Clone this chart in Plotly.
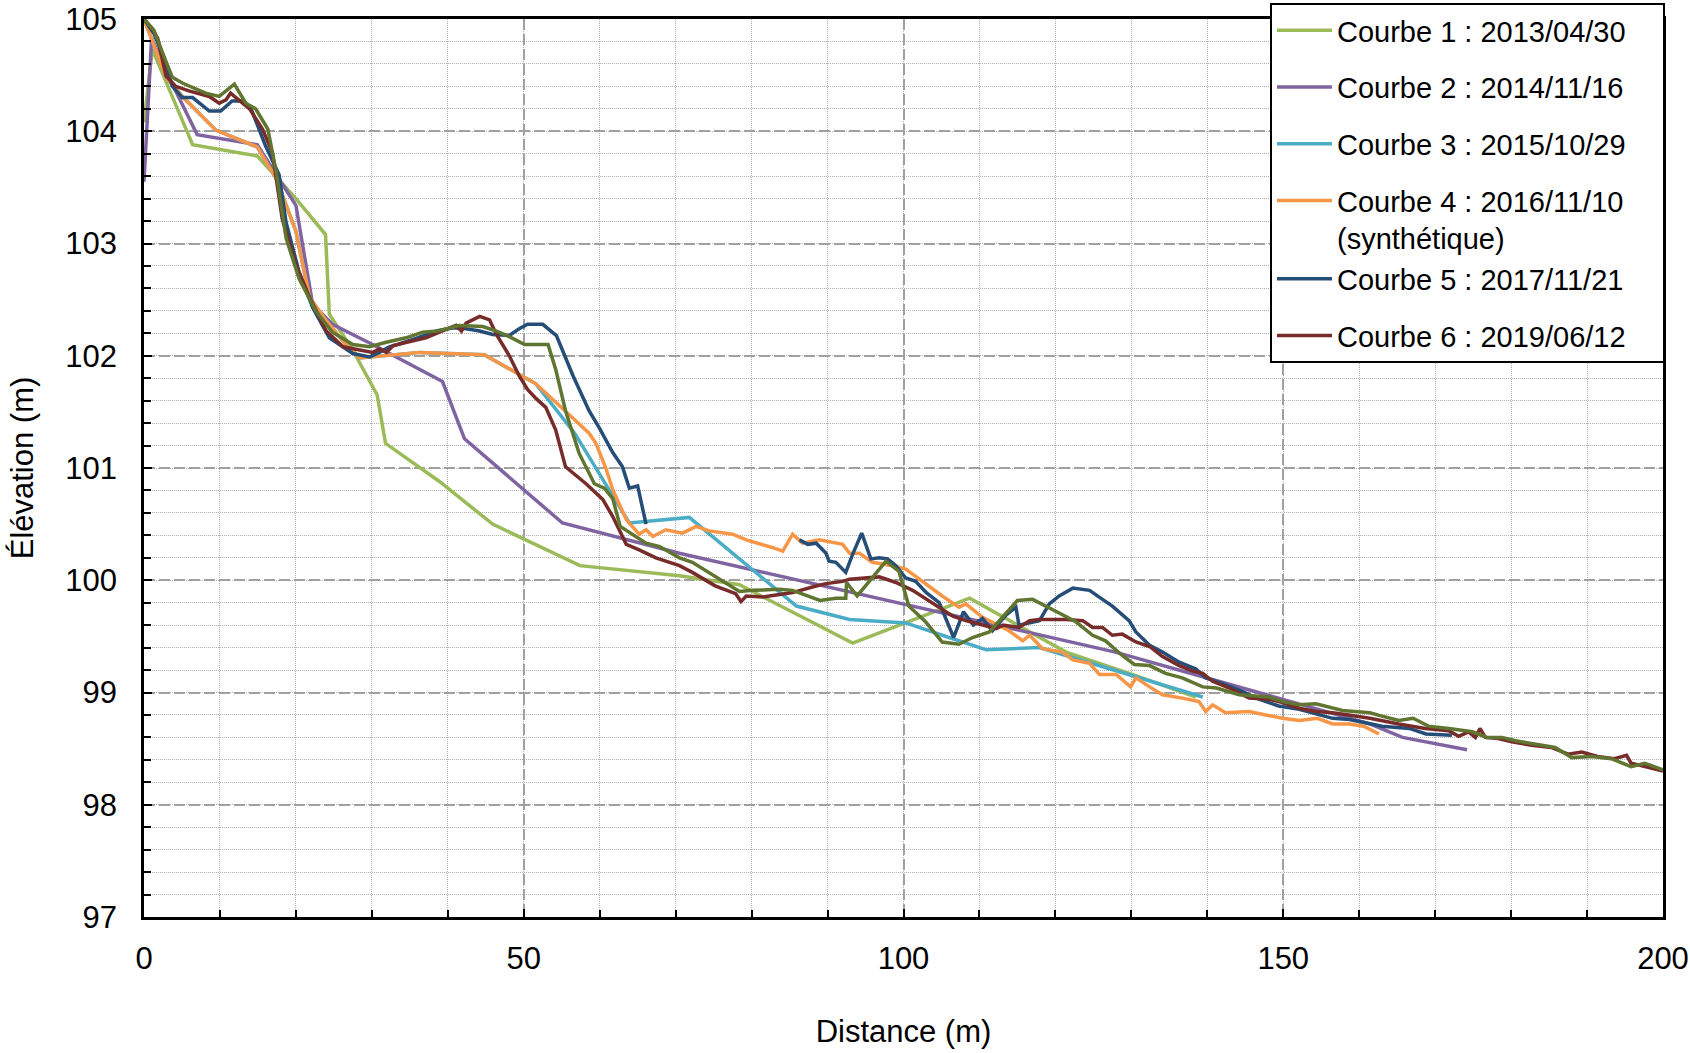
import plotly.graph_objects as go

# ---------------- data ----------------
PAD = "\u00a0" * 4
names = [
    "Courbe 1 : 2013/04/30" + PAD,
    "Courbe 2 : 2014/11/16" + PAD,
    "Courbe 3 : 2015/10/29" + PAD,
    "Courbe 4 : 2016/11/10" + PAD + "<br>(synthétique)",
    "Courbe 5 : 2017/11/21" + PAD,
    "Courbe 6 : 2019/06/12" + PAD,
    "Courbe 7",
]
groups = ["g1", "g2", "g3", "g45", "g45", "g6", "g7"]

c1_x = [0, 1.1, 6.4, 14.9, 20.0, 23.9, 24.4, 27.5, 30.7, 31.8, 38.9, 45.9, 57.4, 70.5, 78.4, 93.3, 108.7, 121.4, 130.2, 138.5]
c1_y = [104.08, 104.73, 103.88, 103.78, 103.40, 103.08, 102.37, 102.05, 101.65, 101.22, 100.88, 100.50, 100.13, 100.04, 99.96, 99.44, 99.84, 99.36, 99.16, 98.96]

c2_x = [0, 1.0, 3.5, 7.0, 14.9, 20.0, 22.2, 24.8, 30.1, 39.3, 42.2, 55.1, 70.5, 93.3, 110.0, 127.9, 139.4, 161.4, 165.7, 174.2]
c2_y = [103.55, 104.83, 104.45, 103.97, 103.88, 103.34, 102.46, 102.28, 102.10, 101.77, 101.26, 100.51, 100.24, 99.89, 99.63, 99.36, 99.14, 98.72, 98.60, 98.49]

c3_x = [0, 2.9, 5.05, 9.45, 14.9, 17.4, 20.0, 21.8, 24.0, 26.6, 28.4, 36.3, 44.8, 51.6, 56.7, 63.9, 71.8, 85.9, 92.9, 100.3, 106.0, 110.9, 117.9, 139.4]
c3_y = [105.0, 104.48, 104.31, 104.01, 103.86, 103.58, 103.11, 102.52, 102.31, 102.10, 101.98, 102.03, 102.01, 101.75, 101.31, 100.51, 100.56, 99.77, 99.65, 99.62, 99.49, 99.38, 99.40, 98.96]

c4_x = [0, 2.9, 5.05, 9.45, 14.9, 17.4, 20.0, 21.8, 24.0, 26.6, 28.4, 36.3, 44.8, 51.6, 58.6, 59.5, 60.8, 61.7, 63.5,
        65.2, 66.1, 67.0, 68.7, 70.9, 72.7, 74.4, 77.5, 79.3, 82.8, 84.1, 85.4, 86.7, 88.9, 92.0, 92.9, 94.2, 95.9,
        98.6, 100.3, 102.5, 105.1, 107.3, 108.2, 110.4, 113.9, 115.7, 116.6, 118.3, 120.9, 122.3, 124.5, 125.8,
        128.0, 129.9, 130.6, 132.4, 134.1, 136.7, 138.9, 139.8, 140.7, 142.4, 145.5, 147.7, 149.9, 152.1, 154.5,
        156.5, 158.7, 160.6, 162.6]
c4_y = [105.0, 104.48, 104.31, 104.01, 103.86, 103.58, 103.11, 102.52, 102.31, 102.10, 101.98, 102.03, 102.01, 101.75,
        101.31, 101.22, 101.00, 100.81, 100.54,
        100.41, 100.45, 100.39, 100.45, 100.42, 100.48, 100.44, 100.41, 100.36, 100.29, 100.26, 100.41, 100.33, 100.36,
        100.32, 100.24, 100.24, 100.16,
        100.13, 100.10, 99.99, 99.86, 99.76, 99.79, 99.67, 99.55, 99.46, 99.51, 99.39, 99.36, 99.29, 99.26, 99.16,
        99.16, 99.05, 99.13, 99.05, 98.98, 98.95, 98.92, 98.83, 98.89, 98.82, 98.83, 98.80, 98.77, 98.75, 98.77,
        98.72, 98.72, 98.70, 98.63]

c5_x = [0, 1.3, 2.0, 3.74, 5.05, 6.4, 8.6, 10.1, 11.6, 13.0, 14.1, 16.0, 17.8, 18.7, 20.4, 22.2, 24.4, 26.2, 27.5,
        29.7, 31.0, 32.3, 33.4, 36.0, 38.5, 40.7, 42.4, 44.2, 45.9, 48.1, 49.4, 50.5, 52.5, 54.3, 56.5, 58.6, 60.0,
        61.7, 63.0, 63.9, 65.0, 66.1, None,
        86.3, 87.4, 88.5, 89.8, 90.2, 91.1, 92.4, 93.3, 94.5, 95.7, 96.8, 97.9, 99.0, 100.3, 101.6, 103.0, 104.7,
        106.6, 107.9, 109.2, 110.4, 111.7, 113.5, 114.8, 115.2, 117.9, 119.2, 120.5, 122.3, 124.5, 126.2, 127.5,
        129.7, 130.6, 132.4, 134.1, 136.3, 138.5, 139.8, 142.0, 144.6, 146.8, 149.4, 152.1, 156.5, 158.7, 160.8,
        163.0, 166.6, 168.8, 172.2]
c5_y = [105.0, 104.87, 104.76, 104.40, 104.30, 104.30, 104.18, 104.18, 104.27, 104.27, 104.20, 103.87, 103.61, 103.19,
        102.75, 102.43, 102.16, 102.08, 102.02,
        101.99, 102.03, 102.08, 102.10, 102.16, 102.22, 102.25, 102.24, 102.22, 102.19, 102.18, 102.24, 102.28, 102.28,
        102.18, 101.82, 101.51, 101.35,
        101.14, 101.01, 100.82, 100.84, 100.50, None,
        100.36, 100.32, 100.33, 100.24, 100.17, 100.16, 100.07, 100.23, 100.42, 100.19, 100.20, 100.19, 100.13, 100.02,
        99.99, 99.89, 99.80,
        99.49, 99.72, 99.60, 99.66, 99.55, 99.69, 99.76, 99.60, 99.64, 99.79, 99.86, 99.93, 99.91, 99.83, 99.77,
        99.64, 99.54, 99.42, 99.36, 99.27, 99.21, 99.13, 99.08, 99.01, 98.94, 98.88, 98.85, 98.77, 98.76, 98.73,
        98.70, 98.68, 98.63, 98.62]

c6_x = [0, 1.0, 1.8, 2.9, 4.2, 5.9, 8.6, 9.9, 10.8, 11.4, 12.1, 13.9, 15.6, 16.9, 18.2, 20.0, 21.8, 24.0, 26.2,
        28.4, 30.1, 31.0, 31.9, 32.8, 34.5, 37.1, 38.9, 41.1, 41.8, 42.4, 44.2, 45.5, 46.4, 48.1, 49.4, 50.5, 51.6,
        52.9, 54.2, 55.5, 58.2, 60.4, 61.7, 63.5, 65.2, 67.4, 70.5, 72.2, 75.2, 77.9, 78.6, 79.3, 81.5, 83.7, 85.4,
        88.0, 89.8, 92.0, 92.9, 96.8, 99.0, 101.2, 103.0, 104.7, 106.5, 108.2, 110.4, 112.2, 113.1, 115.2, 116.6,
        117.9, 121.4, 123.6, 124.9, 126.2, 127.5, 128.8, 130.6, 132.4, 134.1, 136.3, 138.1, 139.4, 140.7, 142.9,
        145.5, 148.1, 149.9, 152.1, 154.3, 156.5, 158.6, 161.4, 165.2, 168.7, 171.8, 173.1, 174.4, 175.3, 175.9,
        176.6, 178.3, 180.1, 182.7, 185.3, 187.5, 189.3, 191.4, 193.6, 195.2, 195.8, 197.1, 200.0]
c6_y = [105.0, 104.92, 104.83, 104.49, 104.40, 104.36, 104.31, 104.25, 104.28, 104.34, 104.30, 104.20, 104.02, 103.81,
        103.22, 102.81, 102.52, 102.22, 102.08,
        102.05, 102.03, 102.06, 102.03, 102.09, 102.12, 102.16, 102.21, 102.27, 102.22, 102.29, 102.35, 102.32, 102.19,
        102.00, 101.82, 101.70, 101.62,
        101.54, 101.34, 101.01, 100.86, 100.72, 100.57, 100.32, 100.27, 100.20, 100.13, 100.07, 99.95, 99.88, 99.81,
        99.86, 99.85, 99.87, 99.89,
        99.94, 99.97, 99.99, 100.01, 100.03, 99.98, 99.91, 99.83, 99.76, 99.68, 99.64, 99.60, 99.57, 99.60, 99.58, 99.64,
        99.65, 99.65, 99.64, 99.58, 99.58, 99.51, 99.52, 99.45, 99.41, 99.32, 99.24, 99.19, 99.17, 99.10, 99.04,
        98.95, 98.94, 98.91, 98.86, 98.83, 98.82, 98.80, 98.77, 98.72, 98.68, 98.66, 98.61, 98.65, 98.60, 98.68,
        98.60, 98.59, 98.56, 98.53, 98.51, 98.45, 98.47, 98.43, 98.41, 98.44, 98.37, 98.35, 98.30]

c7_x = [0, 1.3, 2.9, 3.74, 5.05, 6.4, 8.1, 9.9, 11.9, 13.4, 14.7, 16.3, 17.4, 18.7, 20.4, 22.6, 24.8, 27.5, 29.7,
        31.9, 34.5, 36.7, 38.7, 41.5, 44.6, 46.4, 48.1, 50.1, 53.2, 54.2, 55.5, 57.3, 59.3, 60.6, 61.7, 62.7, 66.1,
        67.9, 70.5, 72.2, 78.4, 80.2, 83.7, 85.4, 89.0, 91.1, 92.4, 92.5, 93.9, 97.7, 99.4, 100.7, 102.9, 105.1,
        107.3, 109.1, 111.3, 115.0, 117.0, 119.6, 122.7, 124.9, 126.6, 128.8, 130.4, 132.4, 134.5, 136.7, 139.4,
        141.2, 144.2, 148.1, 149.9, 152.1, 154.3, 157.8, 161.4, 163.0, 165.2, 167.1, 169.1, 171.8, 174.9, 176.8,
        178.8, 180.6, 185.8, 188.0, 190.6, 193.2, 195.8, 197.6, 200.0]
c7_y = [105.0, 104.90, 104.62, 104.48, 104.43, 104.39, 104.34, 104.31, 104.42, 104.25, 104.20, 104.02, 103.64, 103.05,
        102.69, 102.40, 102.21, 102.10, 102.08,
        102.12, 102.16, 102.21, 102.22, 102.27, 102.26, 102.22, 102.17, 102.10, 102.10, 101.88, 101.51, 101.13, 100.86,
        100.82, 100.73, 100.48, 100.33,
        100.30, 100.20, 100.16, 99.90, 99.91, 99.92, 99.91, 99.82, 99.84, 99.84, 99.98, 99.86, 100.17, 100.08, 99.77,
        99.63, 99.45,
        99.43, 99.49, 99.54, 99.82, 99.83, 99.74, 99.63, 99.51, 99.46, 99.33, 99.25, 99.24, 99.17, 99.13, 99.05,
        99.04, 98.98, 98.96, 98.92, 98.89, 98.90, 98.84, 98.82, 98.79, 98.75, 98.77, 98.70, 98.68, 98.65, 98.60,
        98.60, 98.57, 98.51, 98.42, 98.43, 98.41, 98.34, 98.37, 98.31]

x_ticks = [0, 50, 100, 150, 200]
y_ticks = [97, 98, 99, 100, 101, 102, 103, 104, 105]

colors = ["#9BBB59", "#8064A2", "#4BACC6", "#F79646", "#264D78", "#772C2A", "#5F7530"]
xs = [c1_x, c2_x, c3_x, c4_x, c5_x, c6_x, c7_x]
ys = [c1_y, c2_y, c3_y, c4_y, c5_y, c6_y, c7_y]
in_legend = [True, True, True, True, True, True, False]

FONT = "Liberation Sans, Arial, sans-serif"

fig = go.Figure()
for name, grp, x, y, col, show in zip(names, groups, xs, ys, colors, in_legend):
    fig.add_trace(go.Scatter(
        x=x, y=y, mode="lines", name=name, legendgroup=grp, showlegend=show,
        line=dict(color=col, width=3.5), connectgaps=False,
    ))

axis_common = dict(
    showline=True, linecolor="black", linewidth=2.5, mirror=True,
    ticks="inside", ticklen=8, tickwidth=2, tickcolor="black",
    showgrid=True, gridcolor="#a0a0a0", gridwidth=1.6, griddash="11px,4px",
    zeroline=False, tickfont=dict(family=FONT, size=31, color="black"),
    ticklabeloverflow="allow",
)

fig.update_layout(
    width=1690, height=1053,
    margin=dict(l=144, r=27, t=19, b=136, autoexpand=False),
    paper_bgcolor="white", plot_bgcolor="white",
    font=dict(family=FONT, color="black"),
    xaxis=dict(
        range=[0, 200], tickvals=x_ticks, ticklabelstandoff=12,
        title=dict(text="Distance (m)", font=dict(family=FONT, size=31), standoff=46),
        minor=dict(dtick=10, tick0=0, showgrid=True, gridcolor="#b0b0b0", gridwidth=1,
                   griddash="1px,1px", ticks="inside", ticklen=7, tickwidth=2, tickcolor="black"),
        **axis_common,
    ),
    yaxis=dict(
        range=[97, 105], tickvals=y_ticks, ticklabelstandoff=18,
        title=dict(text="Élévation (m)", font=dict(family=FONT, size=31), standoff=23),
        minor=dict(dtick=0.2, tick0=97, showgrid=True, gridcolor="#b0b0b0", gridwidth=1,
                   griddash="1px,1px", ticks="inside", ticklen=7, tickwidth=2, tickcolor="black"),
        **axis_common,
    ),
    legend=dict(
        x=1.0013, xanchor="right", y=1.0178, yanchor="top",
        bgcolor="white", bordercolor="black", borderwidth=2,
        font=dict(family=FONT, size=29, color="black"),
        tracegroupgap=16, valign="top", itemwidth=55,
    ),
    showlegend=True,
)

fig.write_html("out.html")
